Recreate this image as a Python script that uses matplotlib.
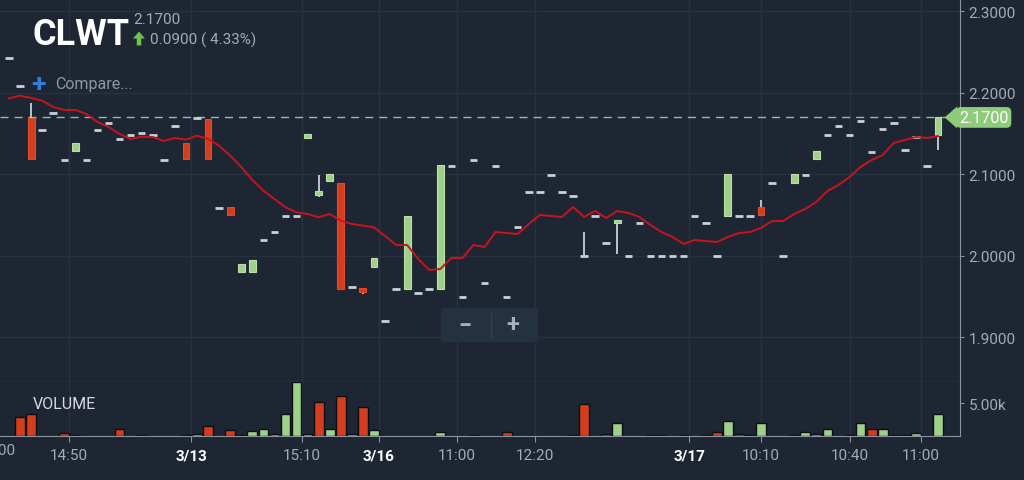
import matplotlib
matplotlib.use('Agg')
import matplotlib.pyplot as plt
import matplotlib.transforms as mtransforms
from matplotlib.patches import FancyBboxPatch, Polygon, FancyArrow
from matplotlib.lines import Line2D
import numpy as np

plt.rcParams['font.family'] = ['Roboto', 'DejaVu Sans']

ticker = 'CLWT'
last_price = '2.1700'
change_text = '0.0900 ( 4.33%)'

# candles, one per bar slot
opens = [2.243, 2.209, 2.169, 2.154, 2.175, 2.118, 2.129, 2.118, 2.154, 2.163,
         2.144, 2.149, 2.151, 2.149, 2.118, 2.159, 2.139, 2.169, 2.168, 2.059,
         2.060, 1.980, 1.980, 2.020, 2.030, 2.049, 2.049, 2.145, 2.075, 2.092,
         2.090, 1.962, 1.961, 1.987, 1.920, 1.960, 1.960, 1.955, 1.960, 1.960,
         2.110, 1.950, 2.118, 1.967, 2.110, 1.950, 2.036, 2.079, 2.079, 2.099,
         2.079, 2.074, 2.000, 2.049, 2.016, 2.041, 2.000, 2.040, 2.000, 2.000,
         2.000, 2.000, 2.049, 2.040, 2.000, 2.049, 2.049, 2.049, 2.060, 2.090,
         2.000, 2.089, 2.099, 2.119, 2.149, 2.159, 2.149, 2.166, 2.128, 2.156,
         2.163, 2.130, 2.146, 2.110, 2.149]
highs = [2.243, 2.209, 2.188, 2.154, 2.175, 2.118, 2.139, 2.118, 2.154, 2.163,
         2.144, 2.149, 2.151, 2.149, 2.118, 2.159, 2.139, 2.169, 2.168, 2.059,
         2.060, 1.990, 1.995, 2.020, 2.030, 2.049, 2.049, 2.150, 2.099, 2.101,
         2.090, 1.962, 1.961, 1.998, 1.920, 1.960, 2.049, 1.955, 1.960, 2.112,
         2.110, 1.950, 2.118, 1.967, 2.110, 1.950, 2.036, 2.079, 2.079, 2.099,
         2.079, 2.074, 2.030, 2.049, 2.016, 2.044, 2.000, 2.040, 2.000, 2.000,
         2.000, 2.000, 2.049, 2.040, 2.000, 2.100, 2.049, 2.049, 2.069, 2.090,
         2.000, 2.100, 2.099, 2.129, 2.149, 2.159, 2.149, 2.166, 2.128, 2.156,
         2.163, 2.130, 2.146, 2.110, 2.170]
lows = [2.243, 2.209, 2.119, 2.154, 2.175, 2.118, 2.129, 2.118, 2.154, 2.163,
        2.144, 2.149, 2.151, 2.149, 2.118, 2.159, 2.119, 2.169, 2.119, 2.059,
        2.050, 1.980, 1.980, 2.020, 2.030, 2.049, 2.049, 2.145, 2.072, 2.092,
        1.960, 1.962, 1.953, 1.987, 1.920, 1.960, 1.960, 1.955, 1.960, 1.960,
        2.110, 1.950, 2.118, 1.967, 2.110, 1.950, 2.036, 2.079, 2.079, 2.099,
        2.079, 2.074, 2.000, 2.049, 2.016, 2.002, 2.000, 2.040, 2.000, 2.000,
        2.000, 2.000, 2.049, 2.040, 2.000, 2.049, 2.049, 2.049, 2.050, 2.090,
        2.000, 2.089, 2.099, 2.119, 2.149, 2.159, 2.149, 2.166, 2.128, 2.156,
        2.163, 2.130, 2.146, 2.110, 2.130]
closes = [2.243, 2.209, 2.119, 2.154, 2.175, 2.118, 2.139, 2.118, 2.154, 2.163,
          2.144, 2.149, 2.151, 2.149, 2.118, 2.159, 2.119, 2.169, 2.119, 2.059,
          2.050, 1.990, 1.995, 2.020, 2.030, 2.049, 2.049, 2.150, 2.080, 2.101,
          1.960, 1.962, 1.956, 1.998, 1.920, 1.960, 2.049, 1.955, 1.960, 2.112,
          2.110, 1.950, 2.118, 1.967, 2.110, 1.950, 2.036, 2.079, 2.079, 2.099,
          2.079, 2.074, 2.000, 2.049, 2.016, 2.044, 2.000, 2.040, 2.000, 2.000,
          2.000, 2.000, 2.049, 2.040, 2.000, 2.100, 2.049, 2.049, 2.050, 2.090,
          2.000, 2.100, 2.099, 2.129, 2.149, 2.159, 2.149, 2.166, 2.128, 2.156,
          2.163, 2.130, 2.146, 2.110, 2.170]
moving_avg = [2.1933, 2.1967, 2.1939, 2.1906, 2.1828, 2.1791, 2.1791, 2.1742, 2.1644, 2.1583,
              2.1497, 2.1436, 2.1464, 2.1460, 2.1411, 2.1448, 2.1427, 2.1476, 2.1436, 2.1353,
              2.1231, 2.1092, 2.0933, 2.0801, 2.0699, 2.0598, 2.0536, 2.0515, 2.0475, 2.0515,
              2.0433, 2.0393, 2.0372, 2.0352, 2.0245, 2.0135, 2.0135, 1.9963, 1.9828, 1.9840,
              1.9975, 1.9975, 2.0135, 2.0110, 2.0294, 2.0282, 2.0270, 2.0393, 2.0503, 2.0491,
              2.0479, 2.0601, 2.0479, 2.0552, 2.0466, 2.0552, 2.0528, 2.0479, 2.0380, 2.0294,
              2.0233, 2.0147, 2.0196, 2.0184, 2.0172, 2.0233, 2.0282, 2.0294, 2.0344, 2.0429,
              2.0429, 2.0515, 2.0577, 2.0663, 2.0798, 2.0871, 2.0969, 2.1092, 2.1178, 2.1239,
              2.1387, 2.1423, 2.1460, 2.1448, 2.1472]
volumes = [0, 2880, 3270, 0, 0, 400, 120, 0, 0, 0,
           1060, 0, 120, 0, 0, 0, 120, 350, 1450, 0,
           850, 150, 800, 1000, 350, 3270, 8180, 350, 5150, 1000,
           6060, 350, 4390, 850, 0, 0, 0, 0, 0, 600,
           0, 0, 120, 0, 0, 600, 0, 0, 0, 0,
           0, 120, 4890, 0, 350, 1970, 0, 0, 120, 120,
           0, 120, 0, 120, 600, 2270, 350, 120, 2010, 0,
           0, 120, 600, 350, 1000, 0, 120, 1970, 1060, 1000,
           120, 120, 400, 0, 3270]
vol_down = [1, 2, 5, 10, 18, 20, 28, 30, 32, 45, 52, 54, 64, 66, 78]

time_ticks = [5.42, 16.46, 26.5, 33.45, 40.5, 47.56, 61.5, 68.0, 76.0, 82.46]
time_labels = ['14:50', '3/13', '15:10', '3/16', '11:00', '12:20', '3/17', '10:10', '10:40', '11:00']
date_labels = ['3/13', '3/16', '3/17']
price_ticks = [1.9, 2.0, 2.1, 2.2, 2.3]
vol_ticks = [5000]

bg = '#1d2632'
grid_c = '#28323e'
axis_c = '#8a929b'
label_c = '#a3abb4'
red = '#d43d1d'
green = '#9fd08a'
dash_c = '#c9d0d7'

W, H = 1024, 481
fig = plt.figure(figsize=(W / 100, H / 100), dpi=100, facecolor=bg)


def fx(px):
    return px / W


def fy(py):
    return 1 - py / H


ax = fig.add_axes([0, fy(383), fx(960), 383 / H], facecolor=bg)
axv = fig.add_axes([0, fy(437), fx(960), 54 / H], facecolor=bg, sharex=ax)

idx = np.arange(len(closes))
o = np.array(opens)
c = np.array(closes)
hi = np.array(highs)
lo = np.array(lows)

# wicks
top = np.maximum(o, c)
bot = np.minimum(o, c)
has_wick = (hi > top) | (lo < bot)
ax.vlines(idx[has_wick], lo[has_wick], hi[has_wick], color=dash_c, lw=1.3, zorder=2)

# flat bars (open == close)
flat = o == c
ax.hlines(c[flat], idx[flat] - 0.34, idx[flat] + 0.34, color=dash_c, lw=2.0, zorder=2)

up = (c > o)
dn = (c < o)
ax.bar(idx[up], (c - o)[up], bottom=o[up], width=0.62, color=green,
       edgecolor='#b9e0a6', lw=0.8, zorder=2)
ax.bar(idx[dn], (o - c)[dn], bottom=c[dn], width=0.62, color=red,
       edgecolor='#e04a28', lw=0.8, zorder=2)

ax.plot(idx, moving_avg, color='#c8141d', lw=1.4, zorder=3)

# last price line
ax.axhline(c[-1], color='#9cbd93', lw=1, dashes=(5.8, 4.3), zorder=1.5)

ax.set_xlim(-0.814, 85.99)
ax.set_ylim(1.8454, 2.3153)
ax.set_yticks(price_ticks)
ax.set_yticklabels(['%.4f' % p for p in price_ticks])
ax.yaxis.tick_right()
ax.tick_params(axis='y', colors=axis_c, labelcolor=label_c, labelsize=11, length=3, pad=3)
ax.tick_params(axis='x', bottom=False, labelbottom=False)
ax.grid(True, color=grid_c, lw=1)
ax.set_axisbelow(True)
for s in ['left', 'top']:
    ax.spines[s].set_visible(False)
ax.spines['right'].set_color(axis_c)
ax.spines['bottom'].set_color(axis_c)

# volume
vi = idx[np.array(volumes) > 0]
vv = np.array(volumes)[vi]
vcol = [red if i in vol_down else green for i in vi]
axv.bar(vi, vv, width=0.88, color=vcol, edgecolor='#0b0f14', lw=1.0, zorder=2)
axv.set_ylim(0, 8200)
axv.set_yticks(vol_ticks)
axv.set_yticklabels(['5.00k'])
axv.yaxis.tick_right()
axv.tick_params(axis='y', colors=axis_c, labelcolor=label_c, labelsize=11, length=3, pad=3)
axv.set_xticks(time_ticks)
axv.set_xticklabels(time_labels)
axv.tick_params(axis='x', colors=axis_c, labelcolor=label_c, labelsize=11, length=4.3, pad=4.5)
for t in axv.get_xticklabels():
    if t.get_text() in date_labels:
        t.set_color('white')
        t.set_fontweight('bold')
axv.grid(True, axis='x', color=grid_c, lw=1)
axv.set_axisbelow(True)
for s in ['left', 'top']:
    axv.spines[s].set_visible(False)
axv.spines['right'].set_color(axis_c)
axv.spines['bottom'].set_color(axis_c)
axv.text(0.034, 0.6, 'VOLUME', transform=axv.transAxes, color='#d5dade', fontsize=11.5, va='center')

# clipped first time label at the left edge (only its tail shows, as in the source)
axv.text(0.63, -0.26, '14:00', transform=mtransforms.blended_transform_factory(axv.transData, axv.transAxes),
         ha='right', va='center', color=label_c, fontsize=11, clip_on=False)

# last price tag
tag_tf = mtransforms.blended_transform_factory(ax.transAxes, ax.transData)
half = 0.0135
ax.add_patch(Polygon([(0.984, c[-1]), (0.997, c[-1] + half), (0.997, c[-1] - half)],
                     closed=True, transform=tag_tf, fc='#8fcb7b', ec='none', clip_on=False, zorder=5))
ax.text(0.999, c[-1], last_price, transform=tag_tf, ha='left', va='center', color='white', fontsize=11.5,
        clip_on=False, zorder=6,
        bbox=dict(boxstyle='round,pad=0.18,rounding_size=0.3', fc='#8fcb7b', ec='none'))

# header
fig.text(fx(33), fy(45), ticker, color='white', fontsize=26, fontweight='bold', va='baseline')
fig.text(fx(133), fy(20), last_price, color=label_c, fontsize=11, va='center')
fig.add_artist(FancyArrow(fx(139), fy(46.5), 0, 7 / H, width=fx(4.5), head_width=fx(12),
                          head_length=7 / H, length_includes_head=False, fc='#6cc24a', ec='none',
                          transform=fig.transFigure))
fig.text(fx(150), fy(40), change_text, color=label_c, fontsize=11, va='center')
fig.text(fx(31), fy(85), '+', color='#2f7fe0', fontsize=19, fontweight='bold', va='center')
fig.text(fx(55), fy(85), 'Compare...', color='#8e97a1', fontsize=11.5, va='center')

# zoom buttons
fig.add_artist(FancyBboxPatch((fx(441), fy(343)), fx(97), 34 / H,
                              boxstyle='round,pad=0,rounding_size=0.005', fc='#243140', ec='none'))
fig.add_artist(Line2D([fx(491), fx(491)], [fy(338), fy(314)], color='#33404e', lw=1))
fig.text(fx(465), fy(326), '\u2212', color='#a8b0b9', fontsize=17, fontweight='bold', ha='center', va='center')
fig.text(fx(513), fy(326), '+', color='#a8b0b9', fontsize=17, fontweight='bold', ha='center', va='center')

fig.savefig('out.png', dpi=100, facecolor=bg)
